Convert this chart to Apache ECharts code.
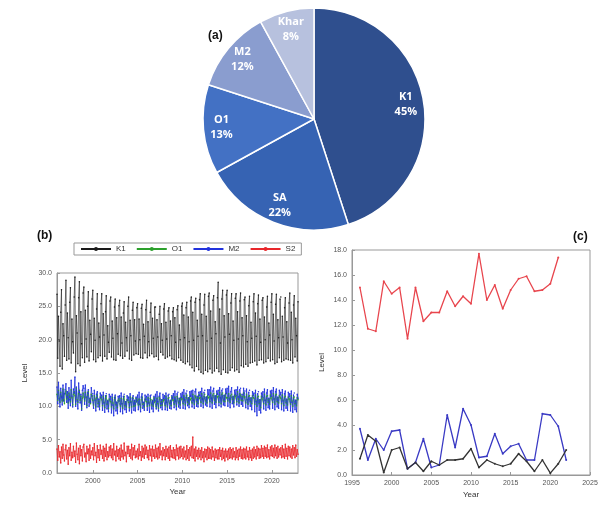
<!DOCTYPE html>
<html>
<head>
<meta charset="utf-8">
<script src="https://cdn.jsdelivr.net/npm/echarts@6/dist/echarts.min.js"></script>
<style>
  html, body { margin: 0; padding: 0; background: #fff; }
  #chart { width: 605px; height: 505px; }
</style>
</head>
<body>
<div id="chart"></div>
<script>
// (a) share of each constituent
const pieNames = ['K1', 'SA', 'O1', 'M2', 'Khar'];
const pieShares = [45, 22, 13, 12, 8];

// (b) monthly amplitudes, Jan 1996 .. Dec 2022, one row per year
const monthlyStartYear = 1996;
const k1Monthly = [
  26.8,17.2,23.5,19.8,16.0,24.1,27.5,15.6,22.4,20.6,17.5,25.2,
  28.9,16.9,24.0,20.3,17.1,25.6,27.8,16.5,23.1,19.7,18.0,26.4,
  29.4,15.2,23.6,21.0,16.4,26.3,28.7,16.1,24.2,19.4,17.3,27.0,
  27.9,16.6,24.4,20.1,17.4,25.0,27.2,16.8,22.9,20.8,18.2,26.1,
  27.4,17.0,23.2,19.9,16.7,24.6,26.9,17.3,22.5,20.4,17.6,25.4,
  26.9,16.8,23.9,20.7,17.5,24.2,26.6,17.1,22.1,19.6,18.1,25.8,
  26.4,17.4,22.8,20.2,17.0,24.9,26.1,16.9,23.3,20.9,17.8,25.1,
  25.9,17.6,23.4,19.5,17.2,24.0,25.7,17.5,22.6,20.3,18.3,25.0,
  26.4,17.1,22.9,20.6,16.9,24.4,25.6,17.7,23.0,19.8,17.9,24.8,
  25.4,17.8,23.1,20.0,17.3,24.7,25.3,17.2,22.3,20.5,18.0,24.5,
  25.9,17.3,22.7,19.7,17.6,24.1,25.5,17.9,23.2,20.2,17.4,24.9,
  24.9,17.5,23.0,20.4,17.0,23.8,25.0,18.1,22.4,19.9,17.7,24.6,
  25.4,17.2,22.6,20.1,17.4,24.3,24.8,17.6,22.8,20.6,17.1,24.2,
  24.8,17.0,23.3,19.6,16.8,24.5,25.1,17.3,22.2,20.0,16.9,25.0,
  25.5,16.6,23.7,20.3,16.4,24.8,25.6,16.7,23.4,19.7,16.2,25.8,
  26.4,15.8,24.1,19.9,15.3,25.6,26.2,16.0,22.9,20.5,15.5,26.0,
  26.9,15.1,23.8,20.6,14.9,25.2,26.8,15.4,23.5,19.8,15.2,26.5,
  27.0,15.6,24.3,20.2,15.0,25.9,26.6,15.3,22.7,20.9,15.7,26.3,
  28.6,15.2,24.6,19.5,14.8,26.1,27.4,15.5,23.6,20.4,15.1,26.7,
  27.4,15.0,23.9,20.8,15.4,25.5,26.9,15.8,22.8,19.9,15.3,26.2,
  26.9,15.5,24.2,20.1,15.1,25.8,27.0,16.1,23.3,20.6,15.9,26.0,
  26.4,16.3,23.6,19.7,16.0,25.1,26.5,16.5,22.6,20.2,16.6,25.7,
  26.9,16.8,24.0,20.5,16.2,25.4,26.7,16.9,23.1,19.6,17.0,25.9,
  26.3,16.5,23.4,20.0,16.7,24.9,26.5,17.2,22.5,20.7,16.8,25.6,
  26.9,17.0,23.8,19.8,16.4,25.3,26.8,16.6,23.0,20.3,17.3,26.1,
  26.4,16.7,23.5,20.4,16.9,24.8,26.3,17.1,22.7,19.5,17.0,25.5,
  27.0,16.9,24.1,20.0,16.5,25.2,26.6,17.4,23.2,20.6,16.8,25.7
];
const o1Monthly = [
  11.8,10.9,12.4,11.2,10.6,12.1,11.5,10.8,12.6,11.0,10.4,11.9,
  12.3,11.1,11.7,10.5,12.0,11.4,10.7,12.5,11.3,10.2,11.8,12.2,
  11.6,10.3,12.7,11.0,10.6,11.9,12.4,10.9,11.5,9.6,11.2,12.0,
  11.4,10.8,12.1,11.3,10.1,11.7,12.2,10.6,11.0,10.4,11.8,11.5,
  10.9,10.2,11.6,11.1,9.9,11.3,11.7,10.4,10.8,10.0,11.4,11.2,
  11.0,10.1,11.5,10.6,9.8,11.2,11.6,10.3,10.9,9.7,11.1,10.8,
  10.7,9.9,11.3,10.5,9.6,11.0,11.4,10.2,10.6,9.8,10.9,11.1,
  10.8,10.0,11.2,10.4,9.7,11.1,11.5,10.1,10.7,9.9,11.0,10.9,
  10.6,9.8,11.4,10.7,9.9,11.3,11.2,10.0,10.8,10.1,11.2,10.7,
  10.9,10.2,11.1,10.3,9.8,11.0,11.4,10.3,10.5,9.9,11.1,10.8,
  10.7,10.0,11.3,10.6,10.1,11.2,11.0,10.2,10.9,10.0,11.3,10.6,
  10.8,9.9,11.2,10.4,9.7,11.4,11.1,10.1,10.7,10.2,11.0,10.9,
  11.0,10.1,11.5,10.6,9.9,11.2,11.3,10.4,10.8,10.1,11.4,11.0,
  10.9,10.3,11.4,10.8,10.0,11.5,11.2,10.5,11.0,10.2,11.3,11.1,
  11.1,10.4,11.6,10.9,10.2,11.3,11.7,10.6,11.2,10.3,11.5,11.0,
  11.2,10.5,11.8,11.0,10.3,11.6,11.4,10.7,11.3,10.4,11.7,11.2,
  11.3,10.6,11.9,11.1,10.4,11.5,11.8,10.8,11.4,10.5,11.6,11.3,
  11.4,10.7,12.0,11.2,10.5,11.7,11.9,10.9,11.5,10.6,11.8,11.4,
  11.5,10.6,12.1,11.3,10.4,11.8,12.0,10.8,11.6,10.7,11.9,11.3,
  11.3,10.8,11.9,11.2,10.6,11.6,11.8,11.0,11.4,10.5,11.7,11.5,
  11.6,10.7,12.2,11.1,10.5,11.9,11.7,10.9,11.5,10.8,12.0,11.4,
  11.4,10.5,11.8,11.0,10.3,11.5,11.6,10.7,11.2,10.4,11.6,11.3,
  11.2,10.3,11.7,10.8,10.0,11.4,11.5,10.4,11.0,9.8,11.5,11.1,
  11.3,10.4,11.8,10.9,10.2,11.5,11.6,10.6,11.1,10.3,11.7,11.2,
  11.4,10.6,11.9,11.1,10.3,11.7,11.8,10.7,11.3,10.5,11.6,11.4,
  11.2,10.4,11.7,10.9,10.1,11.4,11.5,10.5,11.0,10.2,11.4,11.1,
  11.1,10.3,11.6,10.8,10.0,11.3,11.4,10.4,10.9,10.1,11.3,11.0
];
const m2Monthly = [
  12.9,10.4,13.6,11.1,9.9,12.7,11.4,10.2,13.2,10.8,11.9,12.5,
  13.4,10.6,12.2,9.7,12.8,11.0,10.1,13.9,11.5,9.9,12.6,12.0,
  14.4,10.0,12.9,10.8,9.6,13.5,12.1,10.5,11.8,9.4,12.4,13.1,
  12.7,10.3,13.2,11.4,9.8,12.0,12.5,10.0,11.2,10.6,12.8,11.6,
  11.9,9.7,12.4,10.9,9.3,11.8,12.2,9.9,11.1,9.5,12.0,11.3,
  11.7,9.4,12.1,10.5,9.1,11.6,11.9,9.6,10.8,9.2,11.8,11.0,
  11.5,9.0,11.8,10.2,8.6,11.3,11.7,9.3,10.6,8.9,11.5,10.8,
  11.6,9.2,12.0,10.4,8.9,11.5,11.8,9.5,10.7,9.1,11.6,10.9,
  11.4,9.3,11.9,10.6,9.0,11.2,11.6,9.4,10.9,9.3,11.4,10.7,
  11.7,9.5,12.1,10.3,9.2,11.4,11.9,9.7,10.6,9.4,11.7,11.0,
  11.5,9.4,11.8,10.5,9.1,11.6,11.7,9.6,10.8,9.2,11.5,10.8,
  11.8,9.6,12.2,10.7,9.3,11.5,12.0,9.8,11.0,9.5,11.8,11.1,
  11.6,9.5,12.0,10.6,9.4,11.7,11.8,9.7,10.9,9.6,11.6,11.2,
  11.9,9.8,12.3,10.8,9.5,11.9,12.1,9.9,11.2,9.7,11.9,11.3,
  12.1,9.7,12.5,11.0,9.6,12.0,12.3,10.1,11.3,9.8,12.2,11.5,
  12.3,9.9,12.4,10.9,9.7,12.2,12.6,10.0,11.5,9.9,12.1,11.6,
  12.2,10.0,12.7,11.1,9.8,12.1,12.4,10.2,11.4,10.0,12.5,11.7,
  12.5,9.9,12.9,11.2,9.7,12.3,12.7,10.3,11.6,9.8,12.3,11.8,
  12.4,10.1,12.8,11.3,9.9,12.4,12.6,10.2,11.7,10.1,12.6,11.9,
  12.7,10.0,13.0,11.1,9.8,12.2,12.8,10.4,11.5,9.9,12.4,11.7,
  12.5,10.2,12.9,11.4,10.0,12.5,12.7,10.3,11.8,10.0,12.7,12.0,
  12.3,9.8,12.6,11.0,9.6,12.1,12.4,10.0,11.3,9.5,12.2,11.6,
  12.0,9.2,12.4,10.7,8.6,11.9,12.2,9.4,11.0,9.0,12.0,11.4,
  12.2,9.6,12.6,10.9,9.4,12.0,12.5,9.8,11.2,9.6,12.3,11.5,
  12.4,9.7,12.8,11.1,9.5,12.2,12.6,9.9,11.4,9.7,12.4,11.7,
  12.1,9.5,12.5,10.8,9.3,11.9,12.3,9.7,11.1,9.4,12.1,11.4,
  11.9,9.3,12.3,10.6,9.1,11.7,12.0,9.5,10.9,9.2,11.8,11.2
];
const s2Monthly = [
  3.6,1.9,4.1,2.4,3.2,1.5,3.9,2.2,4.3,2.7,1.8,3.5,
  4.2,2.1,3.4,1.3,3.8,2.6,4.4,1.9,3.1,2.3,4.0,2.5,
  3.3,1.6,4.5,2.8,2.0,3.7,1.4,4.1,2.6,3.5,1.8,3.9,
  4.3,2.4,3.0,1.7,4.0,2.9,3.6,1.9,4.2,2.2,3.3,2.7,
  3.8,2.0,4.4,2.6,3.1,1.6,4.1,2.3,3.5,1.9,4.2,2.8,
  3.4,2.2,4.0,1.8,3.7,2.5,4.3,2.0,3.2,2.4,3.9,2.6,
  4.1,2.3,3.6,2.0,4.4,2.7,3.3,1.8,4.0,2.5,3.5,2.1,
  3.7,1.9,4.2,2.4,3.4,2.1,4.5,2.6,3.1,1.7,4.0,2.9,
  4.0,2.5,3.5,2.2,4.3,2.0,3.8,2.7,4.1,2.3,3.3,2.4,
  3.6,2.1,4.3,2.6,3.2,1.9,4.0,2.4,3.7,2.2,4.2,2.8,
  3.9,2.3,3.4,2.0,4.1,2.6,3.6,1.8,4.0,2.5,3.5,2.2,
  4.2,2.4,3.7,2.1,3.9,2.3,4.4,2.7,3.3,2.0,3.8,2.6,
  3.5,2.0,4.0,2.5,3.6,2.2,3.9,1.9,4.1,2.4,3.4,2.3,
  3.8,2.2,3.5,2.0,4.2,2.6,3.7,2.1,3.9,2.3,4.0,2.5,
  3.6,2.1,3.9,2.4,3.3,2.0,4.1,2.2,3.5,1.9,3.8,2.6,
  4.0,2.3,5.4,2.2,3.6,1.8,3.9,2.5,3.4,2.1,3.7,2.4,
  3.4,2.0,3.8,2.3,3.2,1.7,3.6,2.4,3.5,2.0,3.9,2.2,
  3.7,2.2,3.5,2.1,3.9,2.4,3.3,1.9,3.6,2.3,3.4,2.1,
  3.5,2.1,3.8,2.5,3.4,2.0,3.7,2.2,3.3,1.8,3.6,2.4,
  3.3,2.0,3.6,2.2,3.8,2.3,3.5,2.1,3.7,2.4,3.2,2.0,
  3.8,2.3,3.4,2.0,3.6,2.5,3.9,2.2,3.5,2.1,3.7,2.3,
  3.6,2.1,3.9,2.4,3.3,2.0,3.8,2.3,3.4,1.9,3.6,2.2,
  3.9,2.4,3.5,2.1,4.0,2.6,3.7,2.2,3.6,2.3,4.1,2.5,
  3.7,2.2,4.0,2.5,3.8,2.3,4.2,2.4,3.5,2.1,3.9,2.6,
  4.1,2.5,3.7,2.3,4.2,2.6,3.8,2.2,4.0,2.4,3.6,2.7,
  3.8,2.3,4.1,2.4,3.6,2.2,4.3,2.5,3.7,2.1,4.0,2.6,
  3.9,2.4,3.6,2.2,4.1,2.7,3.8,2.3,4.2,2.5,3.5,2.8
];
const yearTicksB = [2000, 2005, 2010, 2015, 2020];

// (c) annual values
const annualYears = [1996,1997,1998,1999,2000,2001,2002,2003,2004,2005,2006,2007,2008,2009,
                     2010,2011,2012,2013,2014,2015,2016,2017,2018,2019,2020,2021,2022];
const saAnnual  = [15.0,11.7,11.5,15.5,14.5,15.0,10.9,15.0,12.3,13.0,13.0,14.7,13.5,14.3,
                   13.7,17.7,14.0,15.2,13.3,14.8,15.7,15.9,14.7,14.8,15.3,17.4];
const ssaAnnual = [3.7,1.2,2.9,2.0,3.5,3.6,0.5,1.0,2.9,0.6,0.8,4.8,2.2,5.3,
                   4.0,1.4,1.5,3.3,1.7,2.3,2.5,1.2,1.2,4.9,4.8,3.9,1.2];
const mmAnnual  = [1.3,3.2,2.7,0.2,2.0,2.2,0.5,1.0,0.3,1.1,0.8,1.2,1.2,1.3,
                   2.1,0.6,1.2,0.9,0.7,0.9,1.7,1.1,0.3,1.2,0.15,0.9,2.0];

// ---- build series data ----
const monthly = arr => arr.map((v, i) => [monthlyStartYear + i / 12, v]);
const annual = arr => arr.map((v, i) => [annualYears[i], v]);

const pieColors = ['#2f4f8e', '#3663b3', '#4371c4', '#8a9dcf', '#b7c1de'];
const tickFont = { fontSize: 7, color: '#555', fontFamily: 'Liberation Sans' };
const nameFont = { fontSize: 8, color: '#333', fontFamily: 'Liberation Sans' };
const yearLabel = v => String(Math.round(v));

const chart = echarts.init(document.getElementById('chart'), null, { renderer: 'canvas' });

const lineB = (name, data, color, w) => ({
  name, type: 'line', xAxisIndex: 0, yAxisIndex: 0, data: monthly(data),
  symbol: 'circle', symbolSize: 1.5, showSymbol: true,
  lineStyle: { color, width: w }, itemStyle: { color },
  animation: false, silent: true
});
const lineC = (name, data, color) => ({
  name, type: 'line', xAxisIndex: 1, yAxisIndex: 1, data: annual(data),
  symbol: 'circle', symbolSize: 2, showSymbol: true,
  lineStyle: { color, width: 1.3 }, itemStyle: { color },
  animation: false, silent: true
});

chart.setOption({
  backgroundColor: '#fff',
  animation: false,
  title: [
    { text: '(a)', left: 203, top: 25, textStyle: { fontSize: 12, fontWeight: 'bold', color: '#111', fontFamily: 'Liberation Sans' } },
    { text: '(b)', left: 32, top: 225, textStyle: { fontSize: 12, fontWeight: 'bold', color: '#111', fontFamily: 'Liberation Sans' } },
    { text: '(c)', left: 568, top: 226, textStyle: { fontSize: 12, fontWeight: 'bold', color: '#111', fontFamily: 'Liberation Sans' } }
  ],
  legend: {
    data: ['K1', 'O1', 'M2', 'S2'],
    left: 74, top: 243,
    itemWidth: 30, itemHeight: 5, itemGap: 10,
    padding: [2, 6],
    borderColor: '#999', borderWidth: 1,
    textStyle: { fontSize: 8, color: '#333', fontFamily: 'Liberation Sans' }
  },
  grid: [
    { left: 57, top: 273, width: 241, height: 200, show: true, borderColor: '#999', borderWidth: 1 },
    { left: 352, top: 250, width: 238, height: 225, show: true, borderColor: '#999', borderWidth: 1 }
  ],
  xAxis: [
    {
      gridIndex: 0, type: 'value', min: monthlyStartYear, max: monthlyStartYear + k1Monthly.length / 12 - 1 / 12,
      name: 'Year', nameLocation: 'middle', nameGap: 15, nameTextStyle: nameFont,
      axisLine: { lineStyle: { color: '#999' } },
      axisTick: { inside: true, length: 3, customValues: yearTicksB, lineStyle: { color: '#999' } },
      axisLabel: { ...tickFont, margin: 5, customValues: yearTicksB, formatter: yearLabel },
      splitLine: { show: false }
    },
    {
      gridIndex: 1, type: 'value', min: 1995, max: 2025, interval: 5,
      name: 'Year', nameLocation: 'middle', nameGap: 16, nameTextStyle: nameFont,
      axisLine: { lineStyle: { color: '#999' } },
      axisTick: { inside: true, length: 3, lineStyle: { color: '#999' } },
      axisLabel: { ...tickFont, margin: 5, formatter: yearLabel },
      splitLine: { show: false }
    }
  ],
  yAxis: [
    {
      gridIndex: 0, type: 'value', min: 0, max: 30, interval: 5,
      name: 'Level', nameLocation: 'middle', nameGap: 28, nameRotate: 90, nameTextStyle: nameFont,
      axisLine: { show: true, lineStyle: { color: '#999' } },
      axisTick: { show: true, inside: true, length: 3, lineStyle: { color: '#999' } },
      axisLabel: { ...tickFont, margin: 5, formatter: v => v.toFixed(1) },
      splitLine: { show: false }
    },
    {
      gridIndex: 1, type: 'value', min: 0, max: 18, interval: 2,
      name: 'Level', nameLocation: 'middle', nameGap: 26, nameRotate: 90, nameTextStyle: nameFont,
      axisLine: { show: true, lineStyle: { color: '#999' } },
      axisTick: { show: true, inside: true, length: 3, lineStyle: { color: '#999' } },
      axisLabel: { ...tickFont, margin: 5, formatter: v => v.toFixed(1) },
      splitLine: { show: false }
    }
  ],
  series: [
    {
      type: 'pie', center: [314, 119], radius: 111, startAngle: 90, clockwise: true,
      data: pieNames.map((n, i) => ({ name: n, value: pieShares[i], itemStyle: { color: pieColors[i] } })),
      itemStyle: { borderColor: '#fff', borderWidth: 1.5 },
      label: { show: false }, labelLine: { show: false },
      silent: true, animation: false
    },
    {
      // transparent ring that carries the slice labels at ~0.8 of the radius
      type: 'pie', center: [314, 119], radius: [69, 111], startAngle: 90, clockwise: true,
      data: pieNames.map((n, i) => ({ name: n, value: pieShares[i] })),
      itemStyle: { color: 'rgba(0,0,0,0)' },
      label: {
        show: true, position: 'inside', formatter: '{b}\n{c}%',
        color: '#fff', fontSize: 11, fontWeight: 'bold', lineHeight: 15, fontFamily: 'Open Sans'
      },
      labelLine: { show: false },
      silent: true, animation: false
    },
    lineB('K1', k1Monthly, '#1a1a1a', 0.6),
    lineB('O1', o1Monthly, '#2ca02c', 0.8),
    lineB('M2', m2Monthly, '#2233dd', 0.8),
    lineB('S2', s2Monthly, '#e8262b', 0.8),
    lineC('Sa', saAnnual, '#e8454d'),
    lineC('Ssa', ssaAnnual, '#3a3ac4'),
    lineC('Mm', mmAnnual, '#333333')
  ]
});
</script>
</body>
</html>
